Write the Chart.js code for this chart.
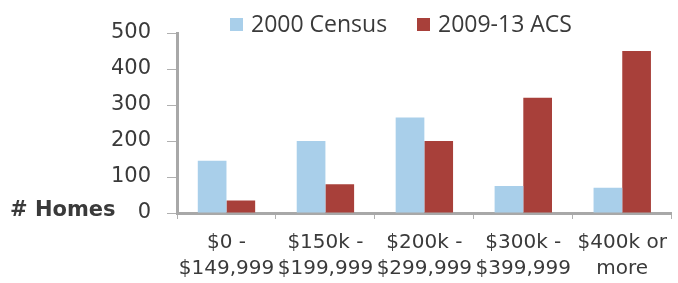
<!DOCTYPE html>
<html><head><meta charset="utf-8">
<script src="https://cdn.jsdelivr.net/npm/chart.js@4"></script>
<style>html,body{margin:0;padding:0;background:#fff}canvas{display:block}</style>
</head><body>
<canvas id="c" width="678" height="283"></canvas>
<script>
const categories = [["$0 -","$149,999"],["$150k -","$199,999"],["$200k -","$299,999"],["$300k -","$399,999"],["$400k or","more"]];
const census2000 = [145, 200, 265, 75, 70];
const acs2013 = [35, 80, 200, 320, 450];
const yTicks = [0, 100, 200, 300, 400, 500];
const yTitle = "# Homes";
const FONT = "'DejaVu Sans', sans-serif";
const LFONT = "'Open Sans', sans-serif";
const TXT = '#3a3a3a';

const titlePlugin = {
  id: 'ytitle',
  afterDraw(chart) {
    const ctx = chart.ctx, y = chart.scales.y;
    ctx.save();
    ctx.font = "bold 21px " + FONT;
    ctx.fillStyle = TXT;
    ctx.textAlign = 'left';
    ctx.textBaseline = 'middle';
    ctx.fillText(yTitle, 10, y.getPixelForValue(0) - 2);
    ctx.restore();
  }
};

// legend drawn from the datasets
const legendPlugin = {
  id: 'customLegend',
  afterDraw(chart) {
    const ctx = chart.ctx;
    const itemX = [230, 417];
    ctx.save();
    ctx.font = "23px " + LFONT;
    ctx.textBaseline = 'alphabetic';
    ctx.textAlign = 'left';
    chart.data.datasets.forEach((ds, i) => {
      const x = itemX[i];
      ctx.fillStyle = ds.backgroundColor;
      ctx.fillRect(x, 18, 13, 13);
      ctx.fillStyle = TXT;
      ctx.fillText(ds.label, x + 21, 32);
    });
    ctx.restore();
  }
};

new Chart(document.getElementById('c'), {
  type: 'bar',
  data: {
    labels: categories,
    datasets: [
      {label: '2000 Census', data: census2000, backgroundColor: '#a9cfea'},
      {label: '2009-13 ACS', data: acs2013, backgroundColor: '#a8403a'}
    ]
  },
  options: {
    responsive: false,
    animation: false,
    devicePixelRatio: 1,
    layout: {padding: {left: 0, right: 1, top: 33, bottom: 0}},
    datasets: {bar: {barPercentage: 1, categoryPercentage: 0.58}},
    plugins: {
      legend: {display: false},
      tooltip: {enabled: false}
    },
    scales: {
      x: {
        afterFit(s) { s.height = 70; },
        grid: {offset: true, drawOnChartArea: false, tickLength: 6, color: '#b0b0b0'},
        border: {color: '#a8a8a8', width: 3},
        ticks: {font: {family: FONT, size: 20, lineHeight: 1.3}, color: TXT, maxRotation: 0, autoSkip: false, padding: 11}
      },
      y: {
        min: 0, max: 500,
        afterBuildTicks(s) { s.ticks = yTicks.map(v => ({value: v})); },
        afterFit(s) { s.width = 177; },
        grid: {drawOnChartArea: false, tickLength: 10, color: '#b0b0b0'},
        border: {color: '#a8a8a8', width: 3},
        ticks: {font: {family: FONT, size: 21}, color: TXT, padding: 16}
      }
    }
  },
  plugins: [titlePlugin, legendPlugin]
});
</script>
</body></html>
